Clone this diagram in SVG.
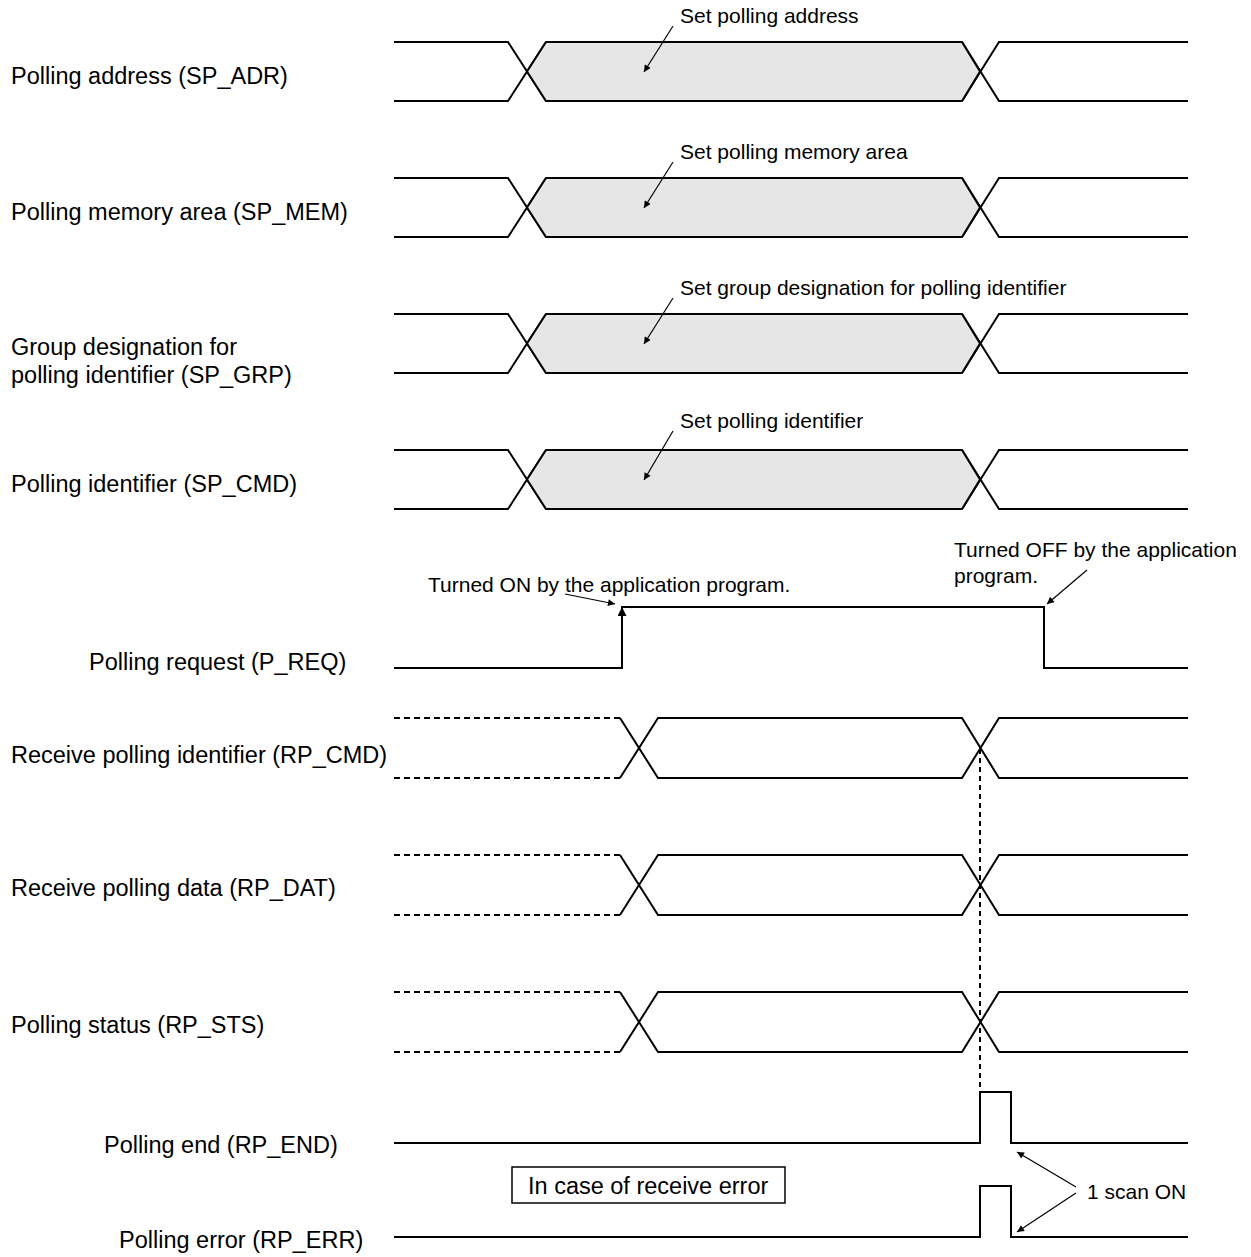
<svg xmlns="http://www.w3.org/2000/svg" width="1251" height="1257" viewBox="0 0 1251 1257">
  <style>
    .sig { fill: none; stroke: #000; stroke-width: 2; stroke-linejoin: miter; }
    .bus { fill: #e6e6e6; stroke: #000; stroke-width: 2; }
    .dash { fill: none; stroke: #000; stroke-width: 2; stroke-dasharray: 6 4; }
    .vdash { fill: none; stroke: #000; stroke-width: 2; stroke-dasharray: 5 4; }
    .lead { fill: none; stroke: #000; stroke-width: 1.2; }
    .label { font-family: "Liberation Sans", Arial, sans-serif; font-size: 23.5px; fill: #000; }
    .note { font-family: "Liberation Sans", Arial, sans-serif; font-size: 21px; fill: #000; }
  </style>
  <defs>
    <marker id="ah" viewBox="0 0 10 10" refX="10" refY="5" markerWidth="12" markerHeight="7" markerUnits="userSpaceOnUse" orient="auto">
      <path d="M0,0 L10,5 L0,10 z" fill="#000"/>
    </marker>
    <marker id="ahBig" viewBox="0 0 10 10" refX="10" refY="5" markerWidth="15" markerHeight="9" markerUnits="userSpaceOnUse" orient="auto">
      <path d="M0,0 L10,5 L0,10 z" fill="#000"/>
    </marker>
  </defs>

  <!-- Setting signals: value bus with shaded valid window -->
  <g id="sp-adr">
    <text class="label" x="11" y="84">Polling address (SP_ADR)</text>
    <path class="sig" d="M394,42 H508 L546,101 M394,101 H508 L546,42 M962,42 L999,101 H1188 M962,101 L999,42 H1188"/>
    <polygon class="bus" points="546,42 962,42 980,71.5 962,101 546,101 527,71.5"/>
    <text class="note" x="680" y="23">Set polling address</text>
    <line class="lead" x1="673" y1="26" x2="644" y2="72" marker-end="url(#ah)"/>
  </g>

  <g id="sp-mem">
    <text class="label" x="11" y="220">Polling memory area (SP_MEM)</text>
    <path class="sig" d="M394,178 H508 L546,237 M394,237 H508 L546,178 M962,178 L999,237 H1188 M962,237 L999,178 H1188"/>
    <polygon class="bus" points="546,178 962,178 980,207.5 962,237 546,237 527,207.5"/>
    <text class="note" x="680" y="159">Set polling memory area</text>
    <line class="lead" x1="673" y1="162" x2="644" y2="208" marker-end="url(#ah)"/>
  </g>

  <g id="sp-grp">
    <text class="label" x="11" y="355">Group designation for</text>
    <text class="label" x="11" y="383">polling identifier (SP_GRP)</text>
    <path class="sig" d="M394,314 H508 L546,373 M394,373 H508 L546,314 M962,314 L999,373 H1188 M962,373 L999,314 H1188"/>
    <polygon class="bus" points="546,314 962,314 980,343.5 962,373 546,373 527,343.5"/>
    <text class="note" x="680" y="295">Set group designation for polling identifier</text>
    <line class="lead" x1="673" y1="298" x2="644" y2="344" marker-end="url(#ah)"/>
  </g>

  <g id="sp-cmd">
    <text class="label" x="11" y="492">Polling identifier (SP_CMD)</text>
    <path class="sig" d="M394,450 H508 L546,509 M394,509 H508 L546,450 M962,450 L999,509 H1188 M962,509 L999,450 H1188"/>
    <polygon class="bus" points="546,450 962,450 980,479.5 962,509 546,509 527,479.5"/>
    <text class="note" x="680" y="428">Set polling identifier</text>
    <line class="lead" x1="673" y1="431" x2="644" y2="480" marker-end="url(#ah)"/>
  </g>

  <!-- Request bit -->
  <g id="p-req">
    <text class="label" x="89" y="670">Polling request (P_REQ)</text>
    <path class="sig" d="M394,668 H622 V607 H1044 V668 H1188"/>
    <line class="sig" x1="622" y1="640" x2="622" y2="607" marker-end="url(#ahBig)"/>
    <text class="note" x="428" y="592">Turned ON by the application program.</text>
    <line class="lead" x1="565" y1="594" x2="615" y2="604" marker-end="url(#ah)"/>
    <text class="note" x="954" y="557">Turned OFF by the application</text>
    <text class="note" x="954" y="583">program.</text>
    <line class="lead" x1="1087" y1="570" x2="1047" y2="604" marker-end="url(#ah)"/>
  </g>

  <!-- Receive data -->
  <g id="rp-cmd">
    <text class="label" x="11" y="763">Receive polling identifier (RP_CMD)</text>
    <path class="dash" d="M394,718 H620 M394,778 H620"/>
    <path class="sig" d="M620,718 L658,778 H962 L999,718 H1188 M620,778 L658,718 H962 L999,778 H1188"/>
  </g>

  <g id="rp-dat">
    <text class="label" x="11" y="896">Receive polling data (RP_DAT)</text>
    <path class="dash" d="M394,855 H620 M394,915 H620"/>
    <path class="sig" d="M620,855 L658,915 H962 L999,855 H1188 M620,915 L658,855 H962 L999,915 H1188"/>
  </g>

  <g id="rp-sts">
    <text class="label" x="11" y="1033">Polling status (RP_STS)</text>
    <path class="dash" d="M394,992 H620 M394,1052 H620"/>
    <path class="sig" d="M620,992 L658,1052 H962 L999,992 H1188 M620,1052 L658,992 H962 L999,1052 H1188"/>
  </g>

  <!-- Completion bits -->
  <g id="rp-end">
    <text class="label" x="104" y="1153">Polling end (RP_END)</text>
    <path class="sig" d="M394,1143 H980 V1092 H1011 V1143 H1188"/>
  </g>

  <g id="rp-err">
    <text class="label" x="119" y="1248">Polling error (RP_ERR)</text>
    <path class="sig" d="M394,1237 H980 V1186 H1011 V1237 H1188"/>
  </g>

  <g id="err-note">
    <rect x="512" y="1167" width="273" height="36" fill="none" stroke="#000" stroke-width="1.5"/>
    <text class="label" x="528" y="1194">In case of receive error</text>
  </g>

  <g id="scan-note">
    <text class="note" x="1087" y="1199">1 scan ON</text>
  </g>

  <!-- Connectors -->
  <g id="connectors">
    <line class="vdash" x1="980" y1="749" x2="980" y2="1092"/>
    <line class="lead" x1="1076" y1="1187" x2="1017" y2="1152" marker-end="url(#ah)"/>
    <line class="lead" x1="1076" y1="1193" x2="1017" y2="1232" marker-end="url(#ah)"/>
  </g>
</svg>
